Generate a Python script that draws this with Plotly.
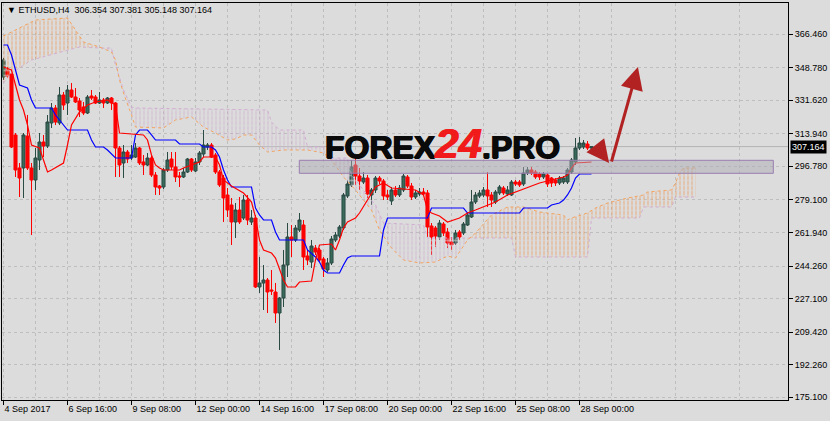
import plotly.graph_objects as go

# ---------------- axis ticks ----------------
date_ticks = [0, 16, 32, 48, 64, 80, 96, 112, 128, 144]
date_labels = ['4 Sep 2017', '6 Sep 16:00', '9 Sep 08:00', '12 Sep 00:00', '14 Sep 16:00',
               '17 Sep 08:00', '20 Sep 00:00', '22 Sep 16:00', '25 Sep 08:00', '28 Sep 00:00']
minor_grid = [8, 24, 40, 56, 72, 88, 104, 120, 136, 152, 168, 184]
price_ticks = [366.46, 348.78, 331.62, 313.94, 296.78, 279.10, 261.94, 244.26,
               227.10, 209.42, 192.26, 175.10]

# ---------------- ETHUSD H4 candles ----------------
open_ = [343.81, 347.50, 345.40, 313.27, 295.89, 295.89, 312.74, 295.89, 289.56, 300.10,
         309.58, 307.47, 319.59, 327.49, 319.59, 334.33, 330.12, 336.97, 333.28, 331.17,
         328.01, 324.85, 333.81, 333.28, 330.12, 331.70, 330.12, 332.75, 330.12, 306.42,
         298.52, 304.31, 301.15, 301.68, 306.42, 299.05, 297.47, 301.15, 292.20, 286.40,
         285.88, 294.84, 300.62, 296.42, 291.67, 291.15, 293.78, 300.62, 294.31, 299.05,
         303.26, 306.94, 308.00, 302.73, 293.78, 290.62, 281.67, 276.40, 267.44, 273.76,
         269.55, 279.03, 267.44, 269.55, 233.21, 235.31, 236.89, 231.63, 230.57, 219.51,
         227.41, 244.79, 259.54, 257.96, 263.23, 265.86, 249.53, 246.37, 253.75, 252.69,
         247.95, 242.16, 245.85, 257.96, 260.07, 264.28, 281.14, 286.93, 297.47, 291.67,
         288.51, 290.62, 281.67, 284.30, 290.62, 289.03, 281.67, 278.50, 284.30, 281.67,
         284.30, 291.15, 286.40, 280.61, 282.19, 283.24, 282.72, 265.33, 264.28, 259.54,
         266.39, 262.17, 256.91, 256.38, 262.17, 261.65, 265.86, 270.07, 277.98, 281.14,
         281.67, 284.30, 281.67, 277.98, 282.72, 285.35, 282.19, 281.67, 288.51, 288.51,
         287.46, 293.25, 294.84, 293.78, 292.73, 291.15, 292.20, 290.62, 289.56, 287.98,
         288.51, 288.51, 293.78, 299.05, 306.42, 306.94, 308.52, 306.354]
high_ = [353.80, 349.08, 345.92, 314.32, 298.52, 314.32, 323.80, 298.52, 306.42, 314.32,
         313.27, 323.80, 330.12, 329.07, 338.55, 335.91, 339.60, 340.65, 338.02, 332.75,
         330.65, 334.33, 336.97, 334.33, 335.91, 332.75, 333.28, 333.28, 330.65, 307.47,
         308.00, 305.37, 308.00, 309.05, 306.94, 302.73, 303.79, 302.21, 293.78, 286.93,
         295.89, 304.31, 304.31, 304.31, 293.78, 295.89, 301.15, 301.15, 301.15, 304.84,
         315.90, 309.05, 309.05, 303.79, 294.84, 292.20, 285.35, 280.09, 277.45, 280.61,
         281.67, 281.67, 273.76, 271.13, 249.01, 244.79, 237.95, 242.16, 235.31, 227.94,
         252.69, 266.91, 265.86, 265.86, 272.18, 268.50, 252.69, 257.96, 255.33, 253.75,
         249.01, 248.48, 260.07, 262.17, 265.86, 282.72, 289.56, 300.10, 301.15, 295.89,
         293.78, 292.20, 285.35, 291.67, 291.67, 290.09, 284.30, 285.88, 286.40, 286.93,
         292.73, 292.20, 287.98, 284.30, 285.35, 285.35, 284.30, 266.91, 265.33, 268.50,
         267.44, 264.28, 259.54, 263.23, 263.23, 267.44, 272.71, 284.30, 283.24, 284.30,
         285.88, 293.78, 283.24, 284.30, 286.93, 286.40, 286.40, 289.56, 289.56, 289.56,
         296.42, 296.42, 296.42, 294.84, 293.78, 293.78, 293.25, 291.15, 290.62, 291.67,
         291.67, 295.89, 301.15, 311.69, 312.21, 310.63, 310.10, 307.381]
low_ = [342.23, 343.29, 306.42, 291.15, 280.61, 280.09, 294.84, 260.59, 284.30, 294.84,
        301.68, 306.42, 316.95, 318.53, 318.53, 326.43, 323.80, 332.75, 330.12, 322.75,
        323.80, 324.33, 331.70, 329.59, 329.59, 327.49, 329.59, 326.43, 291.15, 291.15,
        290.62, 298.52, 300.10, 301.15, 297.47, 292.20, 296.94, 291.15, 281.67, 281.67,
        284.83, 293.78, 294.84, 288.51, 285.88, 290.62, 293.25, 293.78, 293.78, 297.47,
        301.68, 305.37, 301.15, 292.73, 285.88, 267.44, 270.07, 255.33, 259.01, 266.39,
        268.50, 265.86, 265.86, 232.68, 230.05, 221.10, 219.51, 228.99, 214.25, 200.03,
        222.67, 238.47, 249.01, 256.91, 262.17, 242.16, 244.79, 243.21, 250.06, 246.37,
        238.47, 241.11, 244.79, 256.91, 259.01, 263.23, 280.09, 285.88, 286.93, 284.30,
        287.46, 280.09, 276.40, 282.72, 287.46, 279.03, 279.03, 276.40, 280.61, 280.61,
        283.24, 285.35, 279.03, 279.56, 281.14, 281.14, 259.54, 250.06, 254.27, 257.96,
        260.07, 253.75, 252.69, 255.33, 257.96, 260.59, 265.33, 269.55, 276.92, 280.09,
        280.61, 275.34, 275.34, 276.92, 281.67, 281.67, 281.14, 281.14, 286.40, 285.88,
        286.40, 292.20, 292.20, 290.09, 289.56, 290.09, 285.88, 285.88, 286.40, 286.93,
        287.46, 287.46, 292.73, 297.47, 305.37, 305.89, 305.37, 305.148]
close_ = [352.77, 344.34, 306.94, 294.84, 290.62, 313.27, 295.89, 289.56, 301.15, 309.58,
          307.47, 320.12, 327.49, 320.12, 334.33, 329.07, 336.97, 333.28, 330.65, 326.43,
          324.85, 333.28, 332.75, 330.12, 331.70, 330.12, 332.75, 330.12, 306.42, 297.47,
          304.31, 300.62, 302.73, 306.42, 298.52, 297.47, 301.15, 292.20, 285.88, 285.35,
          294.84, 300.10, 296.42, 291.15, 291.15, 293.78, 300.62, 294.84, 299.05, 303.79,
          308.00, 308.00, 301.68, 293.78, 286.93, 280.09, 273.76, 267.44, 273.76, 267.44,
          279.03, 268.50, 269.55, 233.21, 235.31, 236.89, 230.57, 231.10, 219.51, 227.41,
          244.79, 259.54, 257.96, 264.28, 268.50, 249.01, 247.43, 254.80, 251.64, 247.43,
          242.69, 245.85, 258.49, 260.59, 264.81, 281.67, 287.46, 296.42, 291.67, 289.03,
          290.62, 282.19, 284.30, 290.62, 289.03, 281.14, 280.61, 284.30, 281.67, 285.35,
          291.67, 286.40, 280.61, 282.72, 283.24, 282.19, 264.81, 259.54, 260.07, 266.91,
          261.65, 256.38, 255.33, 261.65, 259.54, 266.39, 271.13, 277.98, 281.67, 282.72,
          284.30, 281.14, 279.03, 283.24, 285.88, 282.72, 284.30, 288.51, 287.46, 286.93,
          293.25, 294.84, 293.25, 291.15, 291.15, 292.73, 287.46, 287.98, 287.98, 290.62,
          290.62, 294.84, 300.10, 306.42, 309.05, 309.05, 306.42, 307.164]
bars = list(range(len(close_)))
last_price = 307.164

# ---------------- Ichimoku lines (vertices) ----------------
tenkan_bar = [0, 2, 3, 4, 5, 6, 7, 9, 10, 11, 12, 15, 16, 17, 19, 21, 23, 26, 28, 29,
              35, 36, 37, 38, 39, 40, 44, 45, 49, 50, 53, 54, 55, 57, 60, 62, 63, 64, 65, 67,
              68, 69, 70, 71, 73, 74, 77, 78, 79, 82, 83, 84, 85, 86, 88, 89, 91, 93, 95, 97,
              103, 105, 106, 107, 109, 111, 114, 116, 118, 121, 123, 126, 128, 131, 134, 137,
              140, 141, 142, 143, 147]
tenkan_val = [349.08, 347.50, 339.60, 331.70, 326.43, 318.53, 308.00, 306.42, 300.10, 293.78,
              294.84, 298.52, 308.00, 318.53, 325.38, 329.07, 330.65, 331.70, 329.07, 314.32,
              313.27, 310.63, 302.73, 297.47, 295.89, 294.84, 294.84, 295.89, 299.05, 301.68,
              301.68, 297.47, 289.56, 286.40, 282.72, 277.98, 270.07, 257.96, 252.69, 251.11,
              248.48, 242.16, 236.89, 233.21, 233.21, 235.84, 236.37, 247.43, 255.33, 255.85,
              252.69, 257.96, 264.28, 267.44, 269.55, 272.18, 279.03, 285.88, 287.98, 285.35,
              284.30, 281.67, 273.76, 272.18, 270.60, 267.44, 269.55, 272.18, 273.76, 276.40,
              277.98, 281.67, 283.24, 285.88, 287.98, 289.56, 291.15, 292.20, 295.89, 298.52,
              299.05]

kijun_bar = [0, 1, 2, 3, 4, 6, 7, 8, 12, 13, 15, 16, 21, 22, 23, 25, 26, 28, 32, 33,
             34, 36, 37, 38, 43, 44, 49, 50, 52, 53, 54, 55, 56, 57, 62, 63, 64, 65, 67, 68,
             69, 75, 76, 78, 79, 80, 81, 84, 85, 86, 87, 94, 95, 96, 106, 107, 115, 116, 129, 130,
             136, 137, 139, 140, 141, 142, 143, 144, 147]
kijun_val = [360.67, 360.67, 355.40, 347.50, 339.60, 338.02, 331.70, 327.49, 327.49, 323.80,
             318.53, 315.90, 315.90, 310.63, 306.94, 306.94, 305.37, 301.15, 301.15, 313.27,
             315.90, 315.90, 313.27, 310.63, 310.63, 308.52, 308.52, 306.94, 306.94, 305.37,
             301.68, 294.84, 289.56, 285.88, 285.88, 274.81, 271.13, 268.50, 268.50, 262.17,
             257.96, 257.96, 252.69, 249.01, 246.37, 242.16, 240.58, 240.58, 244.79, 248.48,
             249.53, 249.53, 263.23, 269.55, 269.55, 274.81, 274.81, 272.18, 272.18, 274.81,
             274.81, 276.40, 277.45, 279.03, 281.67, 285.35, 290.62, 292.73, 292.73]

senkou_a_bar = [0, 3, 8, 16, 18, 20, 24, 27, 28, 29, 30, 31, 32, 33, 40, 43, 47, 50, 53, 56,
                58, 60, 62, 64, 66, 70, 76, 80, 82, 85, 88, 90, 92, 94, 97, 100, 104, 108, 111, 113,
                116, 118, 122, 126, 130, 134, 140, 141, 142, 146, 148, 151, 156, 160, 161, 167, 168,
                169, 170, 173]
senkou_a_val = [365.41, 368.57, 373.84, 374.89, 368.57, 362.25, 359.62, 356.98, 352.77, 342.23,
                335.39, 330.12, 323.80, 317.48, 316.95, 321.16, 322.75, 317.48, 314.32, 310.63,
                311.16, 313.27, 313.27, 308.00, 304.31, 305.37, 305.37, 303.79, 300.10, 291.15,
                284.30, 279.03, 273.76, 263.23, 253.75, 247.43, 245.85, 246.37, 249.53, 248.48,
                257.96, 261.65, 271.13, 275.34, 275.34, 272.71, 271.13, 268.50, 269.55, 272.18,
                274.81, 277.45, 280.09, 281.67, 283.24, 284.30, 287.98, 293.25, 295.89, 295.89]

senkou_b_bar = [0, 2, 7, 16, 19, 24, 27, 28, 30, 32, 33, 66, 67, 69, 75, 76, 81, 82, 86, 87,
                90, 93, 95, 105, 106, 116, 127, 128, 146, 147, 159, 160, 167, 168, 173]
senkou_b_val = [340.65, 345.92, 352.77, 358.04, 359.62, 359.09, 359.09, 350.13, 336.97, 328.01,
                327.49, 326.43, 320.12, 315.90, 315.90, 306.94, 306.94, 301.15, 301.15, 292.20,
                284.30, 276.40, 266.91, 265.86, 259.01, 259.01, 259.01, 249.01, 249.01, 269.55,
                269.55, 275.34, 275.34, 280.61, 280.61]

# cloud sections: (first bar, last bar, which span is on top)
cloud_sections = [(0, 24, 'A'), (24, 116, 'B'), (116, 173, 'A')]

# support zone and forecast arrows (bar, price)
zone_bars = [73.95, 192.45]
zone_prices = [293.09, 299.94]
arrow_short = [(148.1, 307.47), (151.4, 298.52)]
arrow_long = [(151.9, 298.52), (158.6, 349.08)]

# ---------------- styling ----------------
BG = '#DCDCDC'
GRID = '#BEBEBE'
SANDY = '#F4A460'
FONT = 'Liberation Sans'

fig = go.Figure()

def section(s, e):
    ax = [b for b in senkou_a_bar if s <= b <= e]
    ay = [v for b, v in zip(senkou_a_bar, senkou_a_val) if s <= b <= e]
    bx = [b for b in senkou_b_bar if s <= b <= e]
    by = [v for b, v in zip(senkou_b_bar, senkou_b_val) if s <= b <= e]
    return ax + bx[::-1], ay + by[::-1]

for s, e, top in cloud_sections:
    px, py = section(s, e)
    col = '#F08A3C' if top == 'A' else '#C9A2C9'
    # vertical hatch
    fig.add_trace(go.Scatter(
        x=px, y=py, mode='none', fill='toself', fillcolor='rgba(0,0,0,0)',
        fillpattern=dict(shape='|', fgcolor=col, bgcolor='rgba(0,0,0,0)', size=4, solidity=0.3),
        hoverinfo='skip', showlegend=False))
    # background-coloured horizontal breaks turn the hatch into dotted lines
    fig.add_trace(go.Scatter(
        x=px, y=py, mode='none', fill='toself', fillcolor='rgba(0,0,0,0)',
        fillpattern=dict(shape='-', fgcolor=BG, bgcolor='rgba(0,0,0,0)', size=5, solidity=0.35),
        hoverinfo='skip', showlegend=False))

fig.add_trace(go.Scatter(x=senkou_b_bar, y=senkou_b_val, mode='lines',
                         line=dict(color='#D2AED2', width=1, dash='dot'), hoverinfo='skip'))
fig.add_trace(go.Scatter(x=senkou_a_bar, y=senkou_a_val, mode='lines',
                         line=dict(color=SANDY, width=1, dash='dot'), hoverinfo='skip'))

fig.add_trace(go.Candlestick(
    x=bars, open=open_, high=high_, low=low_, close=close_,
    increasing=dict(line=dict(color='#2A4A44', width=1), fillcolor='#3A6A5A'),
    decreasing=dict(line=dict(color='#FF0000', width=1), fillcolor='#FF0000'),
    whiskerwidth=0, hoverinfo='skip'))

fig.add_trace(go.Scatter(x=kijun_bar, y=kijun_val, mode='lines',
                         line=dict(color='#0000FF', width=1.2), hoverinfo='skip'))
fig.add_trace(go.Scatter(x=tenkan_bar, y=tenkan_val, mode='lines',
                         line=dict(color='#FF0000', width=1.2), hoverinfo='skip'))

# current price line
fig.add_shape(type='line', xref='paper', x0=0, x1=1, yref='y', y0=last_price, y1=last_price,
              line=dict(color='#B4B4B4', width=1), layer='between')
# support zone
fig.add_shape(type='rect', xref='x', yref='y', x0=zone_bars[0], x1=zone_bars[1],
              y0=zone_prices[0], y1=zone_prices[1],
              fillcolor='rgba(170,170,180,0.5)', line=dict(color='#9A7DB0', width=1), layer='above')

annotations = []
for (tx, ty), (hx, hy) in [arrow_short, arrow_long]:
    annotations.append(dict(x=hx, y=hy, ax=tx, ay=ty, xref='x', yref='y', axref='x', ayref='y',
                            text='', showarrow=True, arrowhead=2, arrowsize=1.5,
                            arrowwidth=3, arrowcolor='#B22222'))
annotations.append(dict(
    xref='paper', yref='paper', x=0.561, y=0.647, xanchor='center', yanchor='middle',
    text=("<b>FOREX<span style='color:#F21B1B;font-size:42px;font-style:italic;"
          "text-shadow:0.7px 0 0 #F21B1B,-0.7px 0 0 #F21B1B'>24</span>.PRO</b>"),
    showarrow=False,
    font=dict(family=FONT, size=32, color='#0A0A0A',
              shadow='0.8px 0 0 #0A0A0A, -0.8px 0 0 #0A0A0A, 0 0.6px 0 #0A0A0A')))
annotations.append(dict(
    xref='paper', yref='paper', x=0.004, y=0.982, xanchor='left', yanchor='middle',
    text='\u25BC ETHUSD,H4\u00a0 306.354 307.381 305.148 307.164', showarrow=False,
    font=dict(family=FONT, size=9, color='black')))
annotations.append(dict(
    xref='paper', yref='y', x=1, y=last_price, xanchor='left', yanchor='middle', xshift=2,
    text='307.164', showarrow=False, bgcolor='black', borderpad=1,
    font=dict(family=FONT, size=9, color='white')))

fig.update_layout(
    width=830, height=421,
    margin=dict(l=2, r=42, t=3, b=21),
    paper_bgcolor=BG, plot_bgcolor=BG,
    showlegend=False,
    boxgap=0.15, boxgroupgap=0.1,
    font=dict(family=FONT, size=9, color='black'),
    annotations=annotations,
    xaxis=dict(
        range=[-0.375, 196.125], tickvals=date_ticks, ticktext=date_labels,
        ticks='outside', ticklen=4, tickcolor='black', ticklabelposition='outside right',
        showgrid=True, gridcolor=GRID, griddash='3px,3px', gridwidth=1,
        minor=dict(tickvals=minor_grid, showgrid=True, gridcolor=GRID, griddash='3px,3px', ticks=''),
        showline=True, linecolor='black', linewidth=1, mirror=True,
        zeroline=False, rangeslider=dict(visible=False), fixedrange=True,
        tickfont=dict(family=FONT, size=9, color='black')),
    yaxis=dict(
        side='right', range=[173.69, 382.79], tickvals=price_ticks,
        ticktext=['%.3f' % v for v in price_ticks],
        ticks='outside', ticklen=4, tickcolor='black', fixedrange=True,
        showgrid=True, gridcolor=GRID, griddash='3px,3px', gridwidth=1,
        showline=True, linecolor='black', linewidth=1, mirror=True, zeroline=False,
        tickfont=dict(family=FONT, size=9, color='black')),
)

fig.write_html('out.html', config={'displayModeBar': False, 'staticPlot': True},
               post_script="document.body.style.margin='0';document.body.style.padding='0';"
                           "document.body.style.overflow='hidden';")
